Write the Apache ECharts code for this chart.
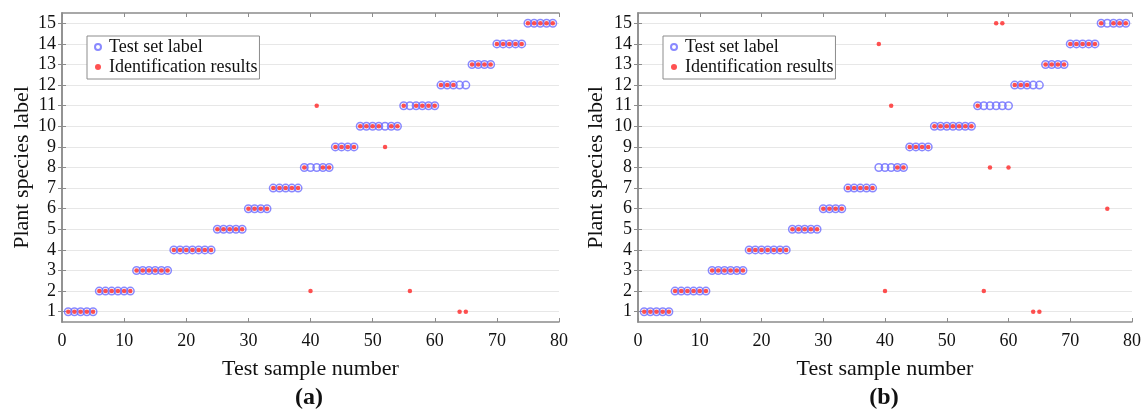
<!DOCTYPE html>
<html>
<head>
<meta charset="utf-8">
<script src="https://cdn.jsdelivr.net/npm/echarts@6/dist/echarts.min.js"></script>
<style>
  html, body { margin: 0; padding: 0; background: #fff; }
  #chart { width: 1144px; height: 415px; }
</style>
</head>
<body>
<div id="chart"></div>
<script>
// true label of each test sample (samples 1..79)
const testLabels = [1,1,1,1,1, 2,2,2,2,2,2, 3,3,3,3,3,3, 4,4,4,4,4,4,4, 5,5,5,5,5, 6,6,6,6,
  7,7,7,7,7, 8,8,8,8,8, 9,9,9,9, 10,10,10,10,10,10,10, 11,11,11,11,11,11,
  12,12,12,12,12, 13,13,13,13, 14,14,14,14,14, 15,15,15,15,15];
// identification results, panel (a)
const resultsA = [1,1,1,1,1, 2,2,2,2,2,2, 3,3,3,3,3,3, 4,4,4,4,4,4,4, 5,5,5,5,5, 6,6,6,6,
  7,7,7,7,7, 8,2,11,8,8, 9,9,9,9, 10,10,10,10,9,10,10, 11,2,11,11,11,11,
  12,12,12,1,1, 13,13,13,13, 14,14,14,14,14, 15,15,15,15,15];
// identification results, panel (b)
const resultsB = [1,1,1,1,1, 2,2,2,2,2,2, 3,3,3,3,3,3, 4,4,4,4,4,4,4, 5,5,5,5,5, 6,6,6,6,
  7,7,7,7,7, 14,2,11,8,8, 9,9,9,9, 10,10,10,10,10,10,10, 11,2,8,15,15,8,
  12,12,12,1,1, 13,13,13,13, 14,14,14,14,14, 15,6,15,15,15];
const yTicks = [1,2,3,4,5,6,7,8,9,10,11,12,13,14,15];
const panelNames = ['(a)', '(b)'];

const font = '"Liberation Serif", "DejaVu Serif", serif';
const axisColor = '#8c8c8c';

function pts(arr) {
  return arr.map((v, i) => [i + 1, v]);
}

const chart = echarts.init(document.getElementById('chart'));

const grids = [
  {left: 62, right: 585, top: 13, bottom: 93},
  {left: 638, right: 10, top: 13, bottom: 93}
];

const xAxis = [];
const yAxis = [];
grids.forEach((g, k) => {
  // bottom axis with labels
  xAxis.push({
    gridIndex: k, type: 'value', min: 0, max: 80, interval: 10,
    name: 'Test sample number', nameLocation: 'middle', nameGap: 36,
    nameTextStyle: {fontFamily: font, fontSize: 22, color: '#111'},
    axisLine: {lineStyle: {color: axisColor, width: 1.5}},
    axisTick: {inside: true, length: 4, lineStyle: {color: axisColor}},
    axisLabel: {fontFamily: font, fontSize: 18, color: '#111', margin: 10},
    splitLine: {show: false}
  });
  // top mirror axis
  xAxis.push({
    gridIndex: k, type: 'value', position: 'top', min: 0, max: 80, interval: 10,
    axisLine: {lineStyle: {color: axisColor, width: 1.5}},
    axisTick: {inside: true, length: 4, lineStyle: {color: axisColor}},
    axisLabel: {show: false},
    splitLine: {show: false}
  });
  yAxis.push({
    gridIndex: k, type: 'value', min: 0.5, max: 15.5,
    name: 'Plant species label', nameLocation: 'middle', nameGap: k === 0 ? 29 : 31,
    nameTextStyle: {fontFamily: font, fontSize: 22, color: '#111'},
    axisLine: {show: true, lineStyle: {color: axisColor, width: 1.5}},
    axisTick: {show: true, inside: true, length: 4, customValues: yTicks, lineStyle: {color: axisColor}},
    axisLabel: {fontFamily: font, fontSize: 18, color: '#111', margin: 6, customValues: yTicks},
    splitLine: {show: true, lineStyle: {color: '#e7e7e7', width: 1}}
  });
  yAxis.push({
    gridIndex: k, type: 'value', position: 'right', min: 0.5, max: 15.5,
    axisLine: {show: true, lineStyle: {color: axisColor, width: 1.5}},
    axisTick: {show: true, inside: true, length: 4, customValues: yTicks, lineStyle: {color: axisColor}},
    axisLabel: {show: false},
    splitLine: {show: false}
  });
});

const series = [];
[resultsA, resultsB].forEach((res, k) => {
  series.push({
    name: 'Test set label', type: 'scatter',
    xAxisIndex: 2 * k, yAxisIndex: 2 * k,
    data: pts(testLabels),
    symbol: 'circle', symbolSize: 7.5,
    itemStyle: {color: 'rgba(255,255,255,0)', borderColor: '#6b6bff', borderWidth: 1.5},
    z: 2
  });
  series.push({
    name: 'Identification results', type: 'scatter',
    xAxisIndex: 2 * k, yAxisIndex: 2 * k,
    data: pts(res),
    symbol: 'circle', symbolSize: 4.5,
    itemStyle: {color: '#ff2525'},
    z: 3
  });
});

const legendCommon = {
  orient: 'vertical', top: 36,
  backgroundColor: '#fff', borderColor: '#8c8c8c', borderWidth: 1,
  padding: [2, 2, 3, 7], itemGap: 2, itemWidth: 12, itemHeight: 6,
  textStyle: {fontFamily: font, fontSize: 18, color: '#111'},
  selectedMode: false,
  data: [
    {name: 'Test set label', icon: 'circle'},
    {name: 'Identification results', icon: 'circle'}
  ]
};

const option = {
  animation: false,
  backgroundColor: '#fff',
  grid: grids,
  xAxis: xAxis,
  yAxis: yAxis,
  legend: [
    Object.assign({left: 87}, legendCommon),
    Object.assign({left: 663}, legendCommon)
  ],
  graphic: [
    {type: 'text', x: 309, y: 398, style: {text: panelNames[0], textAlign: 'center', textVerticalAlign: 'middle', align: 'center', verticalAlign: 'middle', font: 'bold 24px ' + font, fill: '#111'}},
    {type: 'text', x: 884, y: 398, style: {text: panelNames[1], textAlign: 'center', textVerticalAlign: 'middle', align: 'center', verticalAlign: 'middle', font: 'bold 24px ' + font, fill: '#111'}}
  ],
  series: series
};

chart.setOption(option);
</script>
</body>
</html>
